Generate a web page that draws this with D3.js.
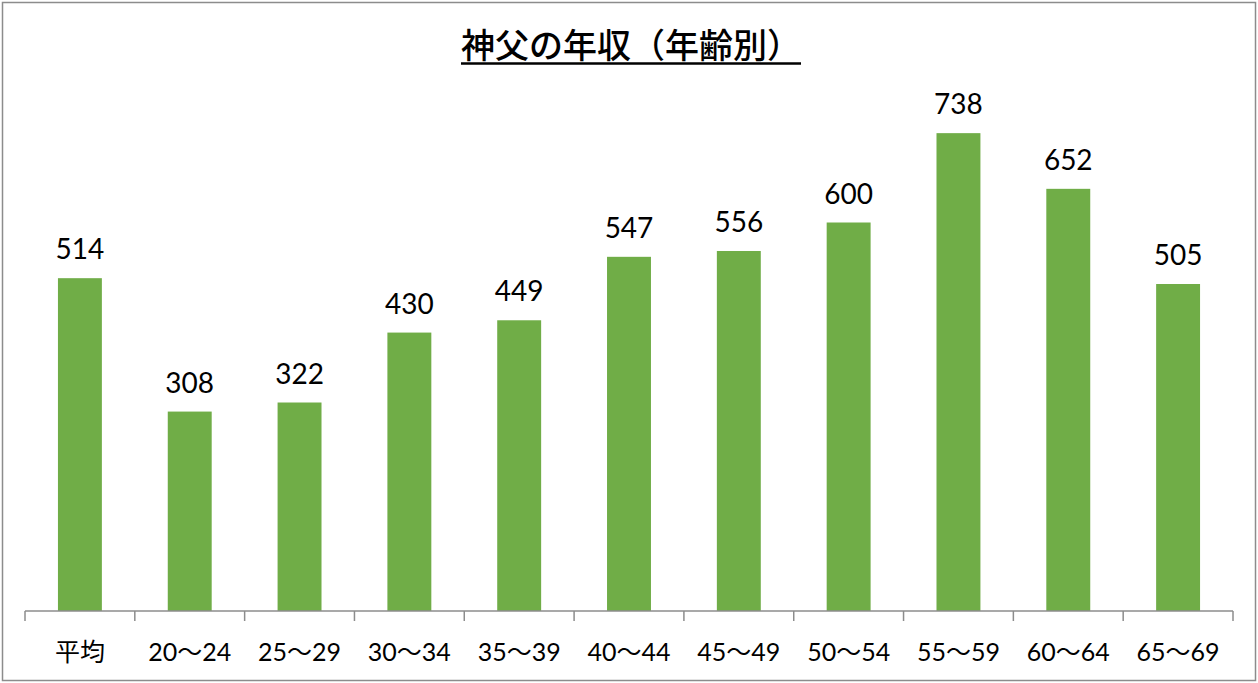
<!DOCTYPE html>
<html><head><meta charset="utf-8">
<script src="https://cdn.jsdelivr.net/npm/d3@7"></script>
<style>body{margin:0;background:#fff}</style>
</head><body>
<script>
const categories = ["平均","20〜24","25〜29","30〜34","35〜39","40〜44","45〜49","50〜54","55〜59","60〜64","65〜69"];
const values = [514,308,322,430,449,547,556,600,738,652,505];
const title = "神父の年収（年齢別）";

const W = 1258, H = 683;
const svg = d3.select("body").append("svg").attr("width", W).attr("height", H);
svg.append("rect").attr("x",2.5).attr("y",2.5).attr("width",W-5).attr("height",H-5)
  .attr("fill","#fff").attr("stroke","#8c8c8c").attr("stroke-width",1.5);

const x = d3.scaleBand().domain(categories).range([25,1233]).paddingInner(0.6).paddingOuter(0.3);
const y = d3.scaleLinear().domain([0,800]).range([611,93]);

const font = "Lato, 'Noto Sans CJK JP', sans-serif";

svg.selectAll("rect.bar").data(values).join("rect").attr("class","bar")
  .attr("x",(d,i)=>x(categories[i])).attr("width",x.bandwidth())
  .attr("y",d=>y(d)).attr("height",d=>y(0)-y(d)).attr("fill","#70ad47");

svg.selectAll("text.val").data(values).join("text").attr("class","val")
  .attr("x",(d,i)=>x(categories[i])+x.bandwidth()/2).attr("y",d=>y(d)-19)
  .attr("text-anchor","middle").attr("font-family",font).attr("font-size",28).attr("fill","#000")
  .text(d=>d);

const axis = d3.axisBottom(x).tickSize(0).tickFormat(d=>d);
const g = svg.append("g").attr("transform","translate(0,611)").call(axis);
g.select(".domain").attr("stroke","#8c8c8c").attr("stroke-width",1.5).attr("d","M25,0H1233");
g.selectAll(".tick text").attr("font-family",font).attr("font-size",25).attr("fill","#000")
  .attr("dy",0).attr("y",50);
const bounds = d3.range(categories.length+1).map(i=>25+i*(1208/categories.length));
g.selectAll("line.b").data(bounds).join("line").attr("class","b")
  .attr("x1",d=>d).attr("x2",d=>d).attr("y1",0).attr("y2",10)
  .attr("stroke","#8c8c8c").attr("stroke-width",1.5);

const t = svg.append("text").attr("x",631).attr("y",58).attr("text-anchor","middle")
  .attr("font-family","'Noto Sans CJK JP', sans-serif").attr("font-size",34).attr("font-weight","500")
  .attr("fill","#000").text(title);
const bb = t.node().getBBox();
svg.append("line").attr("x1",bb.x).attr("x2",bb.x+bb.width).attr("y1",63.5).attr("y2",63.5)
  .attr("stroke","#000").attr("stroke-width",2.5);
</script>
</body></html>
